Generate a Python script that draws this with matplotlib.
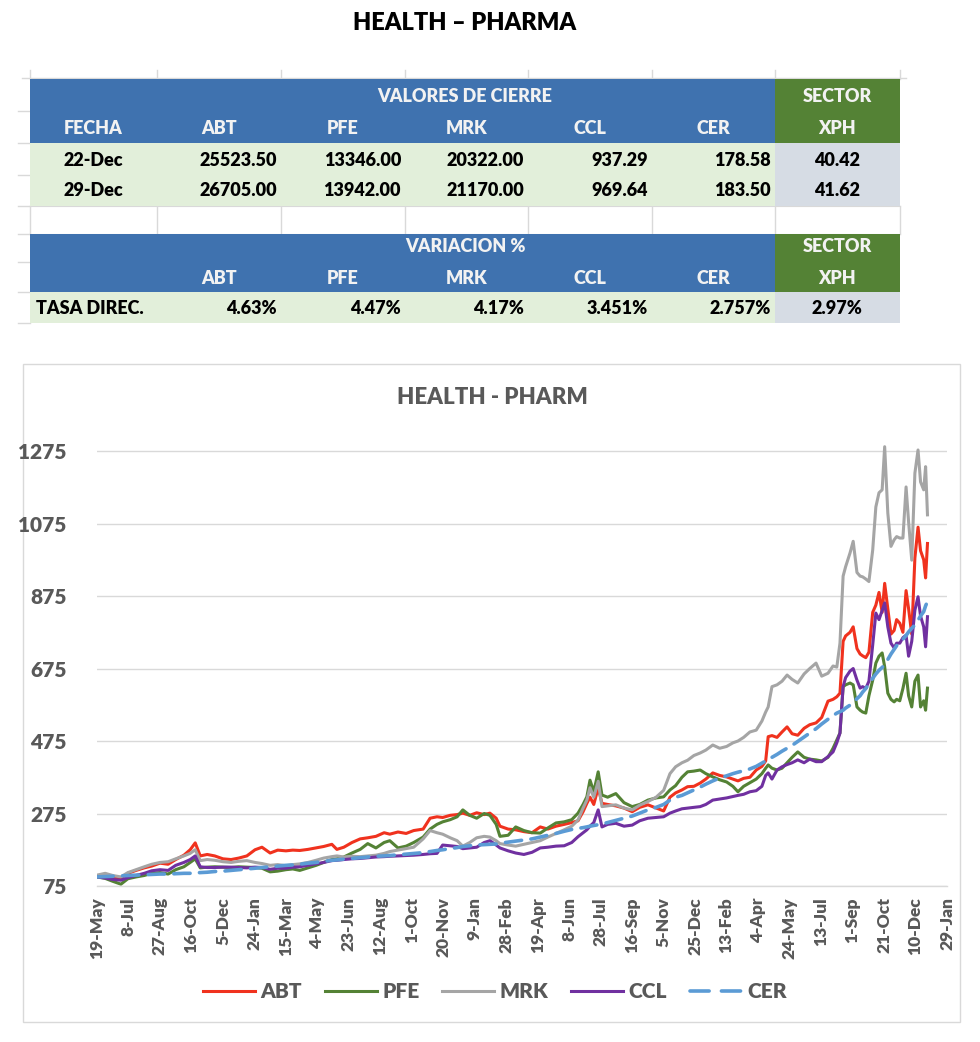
import matplotlib
matplotlib.use("Agg")
import matplotlib.pyplot as plt
import matplotlib.dates as mdates
from matplotlib.patches import Rectangle
from matplotlib.lines import Line2D
import pandas as pd

plt.rcParams['font.family'] = ['Lato', 'DejaVu Sans']
BOLD = "heavy"

# ---------------- table data ----------------
tickers = ["ABT", "PFE", "MRK", "CCL", "CER"]
table_dates = ["22-Dec", "29-Dec"]
close_22 = [25523.50, 13346.00, 20322.00, 937.29, 178.58]
close_29 = [26705.00, 13942.00, 21170.00, 969.64, 183.50]
xph_close = [40.42, 41.62]
variation = ["4.63%", "4.47%", "4.17%", "3.451%", "2.757%"]
xph_variation = "2.97%"

# ---------------- chart data (base 100) ----------------
start_date = "2020-05-19"
day_offsets = [0, 13, 25, 38, 49, 62, 75, 87, 100, 113, 125, 138, 148, 156, 164, 175, 187, 200, 213, 225,
               238, 251, 262, 275, 287, 300, 311, 322,
               335, 348, 360, 373, 381, 392, 405, 418, 430, 443, 456, 465, 478, 491, 503, 518, 529, 540,
               549, 561, 572, 581, 592, 603, 615, 624, 634, 640,
               653, 665, 678, 691, 704, 716, 729, 742, 754, 764, 772, 778, 783, 789, 796, 802, 811, 824,
               837, 850, 862, 875, 888, 900, 910, 919, 929, 938, 948, 958,
               967, 978, 989, 1000, 1010, 1018, 1027, 1037, 1047, 1056, 1062, 1066, 1072, 1080, 1088,
               1096, 1104, 1113, 1123, 1132, 1142, 1151, 1161, 1169, 1175, 1180,
               1185, 1189, 1196, 1201, 1207, 1212, 1216, 1221, 1226, 1232, 1237, 1242, 1247, 1251, 1256,
               1261, 1266, 1270, 1275, 1280, 1285, 1289, 1294, 1299, 1304, 1308, 1313, 1316, 1319]

abt = [100, 102, 97, 96, 110, 118, 125, 130, 138, 135, 148, 160, 175, 194, 158, 162, 158, 150, 148, 152,
       158, 175, 182, 166, 174, 172, 174, 173,
       176, 180, 184, 190, 176, 182, 195, 205, 208, 212, 222, 218, 224, 220, 228, 232, 262, 266,
       264, 270, 272, 276, 270, 277, 272, 276, 262, 240,
       232, 230, 225, 222, 238, 232, 240, 245, 250, 255, 280, 303, 320, 300, 346, 303, 300, 296,
       290, 280, 292, 299, 290, 282, 320, 332, 340, 349, 350, 359,
       370, 387, 380, 376, 370, 365, 372, 375, 395, 405, 420, 487, 490, 485, 500,
       514, 495, 491, 510, 520, 525, 540, 585, 590, 597, 607,
       750, 765, 775, 790, 730, 715, 710, 705, 720, 830, 850, 885, 830, 910, 840,
       770, 780, 810, 800, 775, 890, 840, 770, 980, 1065, 1000, 975, 925, 1020]

pfe = [100, 96, 88, 80, 95, 100, 104, 110, 112, 108, 120, 128, 140, 150, 125, 127, 128, 127, 126, 128,
       127, 126, 124, 114, 116, 120, 122, 118,
       125, 132, 140, 148, 150, 155, 166, 176, 192, 180, 195, 200, 180, 185, 195, 210, 232, 245,
       252, 258, 266, 285, 270, 262, 275, 270, 245, 212,
       215, 238, 228, 222, 221, 235, 249, 252, 258, 276, 300, 321, 367, 335, 390, 326, 320, 330,
       305, 294, 300, 312, 318, 321, 340, 352, 375, 390, 392, 395,
       385, 376, 368, 362, 350, 335, 350, 360, 370, 385, 400, 409, 400, 395, 400,
       415, 430, 445, 430, 425, 423, 420, 430, 455, 478, 497,
       625, 630, 635, 630, 569, 560, 555, 552, 600, 643, 690, 709, 718, 680, 607,
       590, 583, 590, 586, 620, 662, 600, 569, 640, 657, 569, 586, 560, 621]

mrk = [105, 110, 104, 100, 112, 120, 128, 135, 140, 142, 150, 158, 165, 175, 145, 148, 146, 142, 140, 143,
       145, 140, 137, 132, 134, 131, 134, 136,
       140, 146, 152, 156, 158, 155, 157, 156, 158, 160, 165, 170, 174, 178, 182, 205, 228, 222,
       218, 208, 200, 185, 195, 208, 212, 210, 200, 192,
       188, 185, 190, 195, 200, 210, 220, 230, 240, 257, 290, 312, 346, 320, 364, 294, 296, 299,
       290, 285, 298, 308, 320, 339, 385, 404, 415, 422, 435, 442,
       450, 464, 455, 460, 470, 475, 485, 500, 505, 530, 555, 569, 625, 630, 640,
       657, 645, 635, 660, 675, 690, 654, 662, 682, 679, 745,
       930, 956, 994, 1026, 940, 930, 928, 922, 915, 1002, 1121, 1160, 1168, 1287, 1104,
       1012, 1030, 1039, 1035, 1035, 1176, 1080, 974, 1214, 1278, 1190, 1168, 1232, 1099]

ccl = [100, 97, 93, 91, 98, 104, 110, 117, 120, 118, 132, 140, 148, 158, 128, 126, 126, 127, 127, 126,
       125, 127, 126, 121, 124, 124, 127, 128,
       132, 136, 140, 145, 146, 148, 150, 151, 153, 155, 156, 157, 158, 159, 160, 162, 164, 165,
       188, 186, 184, 178, 180, 182, 195, 200, 188, 180,
       172, 166, 162, 168, 180, 182, 185, 186, 195, 211, 222, 230, 240, 250, 285, 238, 245, 248,
       240, 243, 255, 262, 264, 266, 276, 282, 288, 290, 292, 294,
       300, 312, 315, 318, 322, 325, 328, 335, 338, 350, 380, 387, 370, 395, 404,
       410, 415, 423, 415, 425, 418, 418, 432, 445, 470, 497,
       625, 650, 668, 675, 643, 621, 625, 620, 640, 740, 828, 810, 835, 856, 790,
       745, 732, 745, 745, 760, 767, 709, 750, 836, 873, 820, 790, 735, 818]

cer = [100, 101, 102, 103, 104, 105, 106, 107, 108, 108, 109, 110, 110, 111, 112, 113, 115, 116, 118, 120,
       122, 124, 126, 128, 130, 132, 133, 135,
       138, 140, 143, 146, 147, 149, 151, 153, 155, 157, 158, 159, 161, 163, 165, 167, 170, 173,
       175, 178, 181, 184, 186, 188, 189, 190, 191, 193,
       196, 199, 202, 205, 210, 215, 220, 226, 231, 234, 236, 238, 240, 242, 244, 246, 250, 256,
       262, 268, 276, 285, 292, 300, 312, 320, 325, 332, 340, 348,
       356, 365, 373, 379, 385, 389, 393, 398, 405, 414, 420, 424, 430, 438, 447,
       455, 463, 474, 486, 497, 509, 522, 535, 545, 552, 556,
       560, 566, 574, 582, 592, 600, 610, 620, 632, 648, 660, 670, 678, 686, 700,
       715, 728, 738, 748, 756, 766, 776, 786, 795, 808, 820, 832, 848, 860]

series_names = ["ABT", "PFE", "MRK", "CCL", "CER"]
series_values = [abt, pfe, mrk, ccl, cer]
series_colors = ["#F0321E", "#548235", "#A5A5A5", "#7030A0", "#5B9BD5"]
y_ticks = [75, 275, 475, 675, 875, 1075, 1275]
x_tick_step_days = 50
n_x_ticks = 28

# ---------------- figure ----------------
W, H = 980, 1042
fig = plt.figure(figsize=(W / 100, H / 100), dpi=100)
bg = fig.add_axes([0, 0, 1, 1])
bg.set_xlim(0, W)
bg.set_ylim(H, 0)
bg.axis("off")

bg.text(465, 23, "HEALTH \u2013 PHARMA", ha="center", va="center",
        fontsize=17, fontweight=BOLD, color="black")

BLUE = "#3F72AF"
GREEN = "#548235"
LGREEN = "#E2EFDA"
LGRAY = "#D6DCE4"
GRID = "#D9D9D9"

col_edges = [30, 157, 281, 405, 528, 652, 775, 900]

# spreadsheet gridlines around the table
bg.plot([22, 906], [78, 78], color=GRID, lw=1, zorder=0)
for x in col_edges:
    bg.plot([x, x], [70, 79], color=GRID, lw=1, zorder=0)
    bg.plot([x, x], [206, 234], color=GRID, lw=1, zorder=0)
for y in [111, 143, 175, 206, 234, 262, 292, 323]:
    bg.plot([18, 30], [y, y], color=GRID, lw=1, zorder=0)
bg.plot([30, 900], [206, 206], color=GRID, lw=0.8, zorder=0)
bg.plot([30, 900], [234, 234], color=GRID, lw=0.8, zorder=0)


def fill(x0, x1, y0, y1, c):
    bg.add_patch(Rectangle((x0, y0), x1 - x0, y1 - y0, facecolor=c, edgecolor="none", zorder=1))


# block 1
fill(30, 775, 79, 143, BLUE)
fill(775, 900, 79, 143, GREEN)
fill(30, 775, 143, 206, LGREEN)
fill(775, 900, 143, 206, LGRAY)
# block 2
fill(30, 775, 234, 292, BLUE)
fill(775, 900, 234, 292, GREEN)
fill(30, 775, 292, 323, LGREEN)
fill(775, 900, 292, 323, LGRAY)

hdr_kw = dict(ha="center", va="center", fontsize=13, fontweight=BOLD, color="#F2F2F2", zorder=3)
dat_kw = dict(va="center", fontsize=13, fontweight=BOLD, color="black", zorder=3)

bg.text(465, 97, "VALORES DE CIERRE", **hdr_kw)
bg.text(837, 97, "SECTOR", **hdr_kw)
bg.text((col_edges[0] + col_edges[1]) / 2, 129, "FECHA", **hdr_kw)
for i, t in enumerate(tickers):
    bg.text((col_edges[i + 1] + col_edges[i + 2]) / 2, 129, t, **hdr_kw)
bg.text(837, 129, "XPH", **hdr_kw)

for r, (d, vals, xv, yc) in enumerate(zip(table_dates, [close_22, close_29], xph_close, [160, 191])):
    bg.text((col_edges[0] + col_edges[1]) / 2, yc, d, ha="center", **dat_kw)
    for i, v in enumerate(vals):
        bg.text(col_edges[i + 2] - 4, yc, f"{v:.2f}", ha="right", **dat_kw)
    bg.text(837, yc, f"{xv:.2f}", ha="center", **dat_kw)

bg.text(465, 246, "VARIACION %", **hdr_kw)
bg.text(837, 246, "SECTOR", **hdr_kw)
for i, t in enumerate(tickers):
    bg.text((col_edges[i + 1] + col_edges[i + 2]) / 2, 278, t, **hdr_kw)
bg.text(837, 278, "XPH", **hdr_kw)
bg.text(36, 308, "TASA DIREC.", ha="left", **dat_kw)
for i, v in enumerate(variation):
    bg.text(col_edges[i + 2] - 4, 308, v, ha="right", **dat_kw)
bg.text(837, 308, xph_variation, ha="center", **dat_kw)

# chart frame
bg.add_patch(Rectangle((23, 364), 937, 658, facecolor="none", edgecolor=GRID, lw=1, zorder=1))
bg.text(492, 397, "HEALTH - PHARM", ha="center", va="center",
        fontsize=16, fontweight=BOLD, color="#595959")

# ---------------- line chart ----------------
px_left, px_right, px_bottom, px_top = 97, 947, 886, 442
ax = fig.add_axes([px_left / W, 1 - px_bottom / H, (px_right - px_left) / W, (px_bottom - px_top) / H])

t0 = pd.Timestamp(start_date)
dates = [t0 + pd.Timedelta(days=d) for d in day_offsets]
xd = mdates.date2num(dates)

handles = []
for name, vals, col in zip(series_names, series_values, series_colors):
    if name == "CER":
        ax.plot(xd, vals, color=col, lw=2.6, linestyle=(0, (4.5, 2.6)), label=name,
                dash_capstyle="round")
        h = Line2D([], [], color=col, lw=2.6, linestyle=(0, (5.3, 3.4)), dash_capstyle="round")
    else:
        h, = ax.plot(xd, vals, color=col, lw=2.2, label=name, solid_joinstyle="round")
    handles.append(h)

tick_dates = [t0 + pd.Timedelta(days=x_tick_step_days * k) for k in range(n_x_ticks)]
ax.set_xticks(mdates.date2num(tick_dates))
ax.set_xticklabels([f"{d.day}-{d.strftime('%b')}" for d in tick_dates], rotation=90,
                   fontsize=12.5, fontweight=BOLD, color="#595959")
ax.set_xlim(mdates.date2num(tick_dates[0]), mdates.date2num(tick_dates[-1]))
ax.set_ylim(75, 1300)
ax.set_yticks(y_ticks)
ax.set_yticklabels([str(v) for v in y_ticks], fontsize=15, fontweight=BOLD, color="#595959")
ax.tick_params(axis="y", length=0, pad=22)
ax.tick_params(axis="x", length=0, pad=8)
ax.grid(axis="y", color=GRID, lw=1)
ax.set_axisbelow(True)
for s in ["top", "right", "left"]:
    ax.spines[s].set_visible(False)
ax.spines["bottom"].set_color(GRID)
ax.spines["bottom"].set_linewidth(1)
ax.patch.set_alpha(0)

fig.legend(handles, series_names, loc="center", bbox_to_anchor=(495 / W, 1 - 992 / H), ncol=5,
           frameon=False, handlelength=2.5, handletextpad=0.25, columnspacing=1.1,
           prop={"weight": BOLD, "size": 15}, labelcolor="#595959")

fig.savefig("out.png", dpi=100)
